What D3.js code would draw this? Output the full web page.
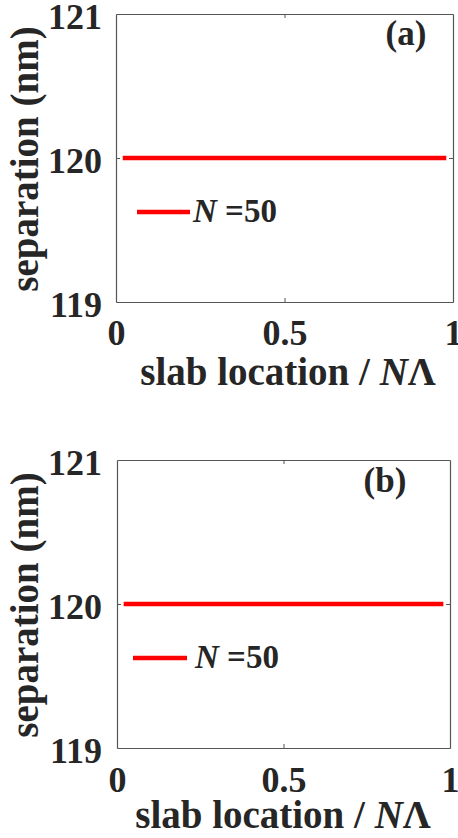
<!DOCTYPE html>
<html>
<head>
<meta charset="utf-8">
<script src="https://cdn.jsdelivr.net/npm/d3@7"></script>
<style>
  html, body { margin: 0; padding: 0; background: #fff; }
  svg { display: block; }
  text { font-family: "Liberation Serif", "Times New Roman", serif; font-weight: bold; fill: #262626; }
</style>
</head>
<body>
<div id="chart"></div>
<script>
// data: both panels show a flat separation of 120 nm
var slabLocation = [0.02, 0.1, 0.2, 0.3, 0.4, 0.5, 0.6, 0.7, 0.8, 0.9, 0.98];
var separationA = [120, 120, 120, 120, 120, 120, 120, 120, 120, 120, 120];
var separationB = [120, 120, 120, 120, 120, 120, 120, 120, 120, 120, 120];
var xTicks = [0, 0.5, 1];
var xTickLabels = ["0", "0.5", "1"];
var yTicks = [119, 120, 121];
var panelLetters = ["(a)", "(b)"];
var legendN = ["50", "50"];

var W = 458, H = 838;
var svg = d3.select("#chart").append("svg")
  .attr("width", W)
  .attr("height", H);

// panel boxes (pixel layout)
var panels = [
  { left: 116, right: 453, top: 14, bottom: 302, values: separationA,
    letterX: 406, letterY: 45, legX: [137, 190], legY: 212, legTextX: 193,
    xLabelX: 288, xLabelY: 385, yLabelX: 38, xPad: 17, yPad: 14 },
  { left: 117, right: 450, top: 460, bottom: 748, values: separationB,
    letterX: 385, letterY: 492, legX: [133, 187], legY: 658, legTextX: 195,
    xLabelX: 283, xLabelY: 828, yLabelX: 38, xPad: 18, yPad: 15 }
];

var drawPanel = function (p, i) {
  var g = svg.append("g");

  var x = d3.scaleLinear().domain([0, 1]).range([p.left, p.right]);
  var y = d3.scaleLinear().domain([119, 121]).range([p.bottom, p.top]);

  //box with inward ticks, MATLAB style
  var axisColor = "#555";
  var bottom = g.append("g")
    .attr("transform", "translate(0," + p.bottom + ")")
    .call(d3.axisBottom(x).tickValues(xTicks)
      .tickFormat(function (d, k) { return xTickLabels[k]; })
      .tickSizeInner(-4).tickSizeOuter(0).tickPadding(p.xPad));
  var top = g.append("g")
    .attr("transform", "translate(0," + p.top + ")")
    .call(d3.axisTop(x).tickValues(xTicks).tickFormat("")
      .tickSizeInner(-4).tickSizeOuter(0));
  var left = g.append("g")
    .attr("transform", "translate(" + p.left + ",0)")
    .call(d3.axisLeft(y).tickValues(yTicks).tickFormat(d3.format("d"))
      .tickSizeInner(-4).tickSizeOuter(0).tickPadding(p.yPad));
  var right = g.append("g")
    .attr("transform", "translate(" + p.right + ",0)")
    .call(d3.axisRight(y).tickValues(yTicks).tickFormat("")
      .tickSizeInner(-4).tickSizeOuter(0));

  [bottom, top, left, right].forEach(function (a) {
    a.select(".domain").attr("stroke", axisColor).attr("stroke-width", 1.2);
    a.selectAll(".tick line").attr("stroke", axisColor);
    a.selectAll(".tick text")
      .style("font-family", "'Liberation Serif', 'Times New Roman', serif")
      .style("font-weight", "bold")
      .style("font-size", "36px")
      .attr("fill", "#262626");
  });
  left.selectAll(".tick text").attr("dy", "0.4em");
  // hide end ticks that sit on the box corners
  g.selectAll(".tick line").filter(function (d) {
    return d === 0 || d === 1 || d === 119 || d === 121;
  }).remove();

  //the data line
  var line = d3.line()
    .x(function (d, k) { return x(slabLocation[k]); })
    .y(function (d) { return y(d); });
  g.append("path")
    .datum(p.values)
    .attr("d", line)
    .attr("fill", "none")
    .attr("stroke", "#ff0000")
    .attr("stroke-width", 4.5);

  //legend (no box)
  g.append("line")
    .attr("x1", p.legX[0]).attr("x2", p.legX[1])
    .attr("y1", p.legY).attr("y2", p.legY)
    .attr("stroke", "#ff0000")
    .attr("stroke-width", 4.5);
  var lt = g.append("text")
    .attr("x", p.legTextX)
    .attr("y", p.legY + 10)
    .style("font-size", "33px");
  lt.append("tspan").style("font-style", "italic").text("N");
  lt.append("tspan").text(" =" + legendN[i]);

  //panel letter
  g.append("text")
    .attr("x", p.letterX)
    .attr("y", p.letterY)
    .attr("text-anchor", "middle")
    .style("font-size", "35px")
    .text(panelLetters[i]);

  //axis labels
  var xl = g.append("text")
    .attr("x", p.xLabelX)
    .attr("y", p.xLabelY)
    .attr("text-anchor", "middle")
    .style("font-size", "39px");
  xl.append("tspan").text("slab location / ");
  xl.append("tspan").style("font-style", "italic").text("N");
  xl.append("tspan").text("\u039B");

  g.append("text")
    .attr("transform", "translate(" + p.yLabelX + "," + ((p.top + p.bottom) / 2 + 1) + ") rotate(-90)")
    .attr("text-anchor", "middle")
    .style("font-size", "39px")
    .text("separation (nm)");
};

panels.forEach(drawPanel);
</script>
</body>
</html>
